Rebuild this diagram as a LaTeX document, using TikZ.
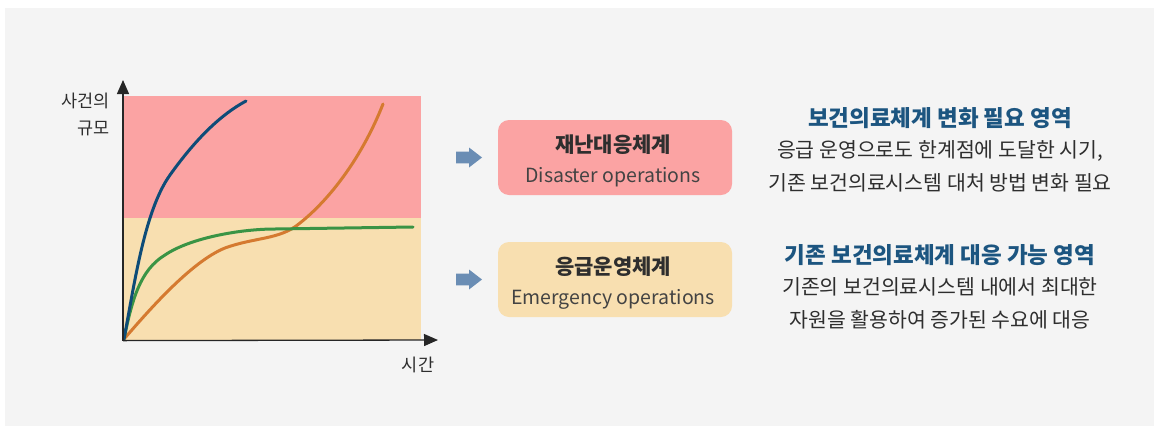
\documentclass[tikz,border=0pt]{standalone}
\usepackage{fontspec}
\setmainfont{Noto Sans CJK KR}
\usetikzlibrary{arrows.meta}
\definecolor{bgpanel}{HTML}{F4F4F4}
\definecolor{pinkzone}{HTML}{FBA3A3}
\definecolor{beigezone}{HTML}{F8DFB0}
\definecolor{curveblue}{HTML}{0E4C78}
\definecolor{curvegreen}{HTML}{3A9445}
\definecolor{curveorange}{HTML}{D57A30}
\definecolor{arrowblue}{HTML}{6A8DB4}
\definecolor{headblue}{HTML}{1C5580}
\definecolor{bodygray}{HTML}{2E2E2E}
\tikzset{
  curve/.style={line width=3pt, line cap=round},
  axis/.style={line width=1.3pt, draw=black!85, -{Triangle[length=14pt,width=12pt]}},
  boxnode/.style={rounded corners=11pt, minimum width=234pt, minimum height=75pt, inner sep=0pt},
  boxtitle/.style={text=bodygray, font=\fontsize{21}{24}\selectfont\bfseries, inner sep=0pt},
  boxsub/.style={text=bodygray!90, font=\fontsize{19.5}{24}\selectfont, inner sep=0pt},
  headtext/.style={text=headblue, font=\fontsize{22.5}{26}\selectfont\bfseries, inner sep=0pt},
  bodytext/.style={text=bodygray, font=\fontsize{20.5}{24}\selectfont, inner sep=0pt},
  axislabel/.style={text=bodygray, font=\fontsize{17.5}{28}\selectfont, inner sep=0pt}
}
\begin{document}
\begin{tikzpicture}[x=1pt,y=-1pt]
\useasboundingbox (0,0) rectangle (1158,426);
\fill[bgpanel] (5,8) rectangle (1154,426);
% zones
\fill[pinkzone] (123,96) rectangle (421,218);
\fill[beigezone] (123,218) rectangle (421,340);
% curves
\coordinate (o) at (124,339);
\draw[curve, curveorange] (o) .. controls (145,315) and (190,262) .. (225,248)
  .. controls (255,237) and (280,240) .. (300,223)
  .. controls (335,195) and (365,150) .. (383,104);
\draw[curve, curvegreen] (o) .. controls (132,300) and (140,270) .. (165,255)
  .. controls (190,238) and (240,229) .. (275,229)
  -- (413,227);
\draw[curve, curveblue] (o) .. controls (135,280) and (145,210) .. (170,175)
  .. controls (195,140) and (220,115) .. (246,101);
% axes
\coordinate (xend) at (438,340);
\coordinate (yend) at (123,80);
\draw[axis] (123,340.6) -- (xend);
\draw[axis] (123,340.6) -- (yend);
\node[axislabel, anchor=east] (ylab1) at (110,101) {사건의};
\node[axislabel, anchor=east] (ylab2) at (110,128) {규모};
\node[axislabel, anchor=center] (xlab) at (418,365) {시간};
% boxes
\node[boxnode, fill=pinkzone] (dis) at (615,157.5) {};
\node[boxtitle] (dist) at (613,145) {재난대응체계};
\node[boxsub] (diss) at (613,177) {Disaster operations};
\node[boxnode, fill=beigezone] (emg) at (615,279.5) {};
\node[boxtitle] (emgt) at (613,267) {응급운영체계};
\node[boxsub] (emgs) at (613,299) {Emergency operations};
% arrows
\fill[arrowblue] (456,151.7) -- (469,151.7) -- (469,147.5) -- (482,157.5) -- (469,167.5) -- (469,163.3) -- (456,163.3) -- cycle;
\fill[arrowblue] (456,273.7) -- (469,273.7) -- (469,269.5) -- (482,279.5) -- (469,289.5) -- (469,285.3) -- (456,285.3) -- cycle;
% right texts
\node[headtext] (h1) at (940,118) {보건의료체계 변화 필요 영역};
\node[bodytext] (b1a) at (940,151) {응급 운영으로도 한계점에 도달한 시기,};
\node[bodytext] (b1b) at (940,183) {기존 보건의료시스템 대처 방법 변화 필요};
\node[headtext] (h2) at (940,255) {기존 보건의료체계 대응 가능 영역};
\node[bodytext] (b2a) at (940,287) {기존의 보건의료시스템 내에서 최대한};
\node[bodytext] (b2b) at (940,320) {자원을 활용하여 증가된 수요에 대응};
\end{tikzpicture}
\end{document}
